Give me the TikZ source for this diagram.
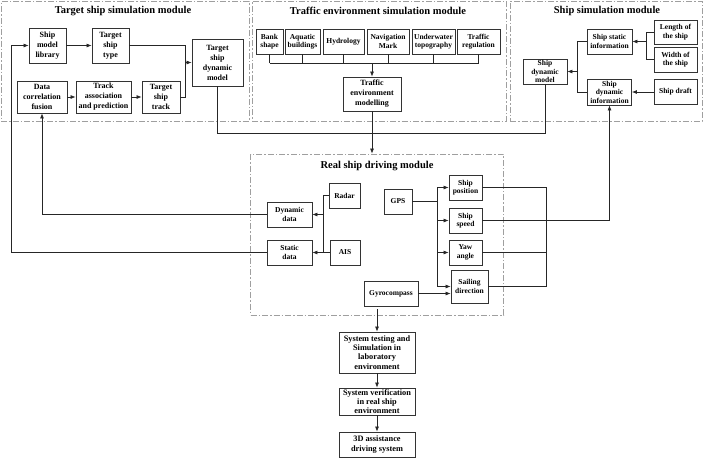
\documentclass[tikz,border=0pt]{standalone}
\usepackage{fontspec}
\setmainfont{Liberation Serif}
\usetikzlibrary{arrows.meta}
\begin{document}
\begin{tikzpicture}[x=1pt,y=-1pt,
 box/.style={draw=black!80, line width=0.8pt, fill=white, align=center, inner sep=1pt, font=\bfseries\fontsize{8}{10}\selectfont},
 sbox/.style={box, font=\bfseries\fontsize{7.5}{8.5}\selectfont},
 bbox/.style={box, font=\bfseries\fontsize{8.3}{9.2}\selectfont},
 modframe/.style={draw=gray!75, line width=0.8pt, dash pattern=on 6pt off 2pt on 1.5pt off 2pt, inner sep=0pt},
 modtitle/.style={font=\bfseries\fontsize{10.5}{12}\selectfont, inner sep=0pt},
 conn/.style={draw=black!85, line width=0.7pt},
 arr/.style={conn, -{Latex[length=5pt,width=4pt]}},
]
\useasboundingbox (0,0) rectangle (704,459);
% module frames
\node[modframe, minimum width=248pt, minimum height=120pt] (tmod) at (125,61) {};
\node[modframe, minimum width=254pt, minimum height=120pt] (emod) at (379,61) {};
\node[modframe, minimum width=192pt, minimum height=120pt] (smod) at (606,61) {};
\node[modframe, minimum width=253pt, minimum height=161pt] (realmod) at (377,234.5) {};
\node[modtitle] (ttitle) at (123,11) {Target ship simulation module};
\node[modtitle] (etitle) at (378,11) {Traffic environment simulation module};
\node[modtitle] (stitle) at (607,11) {Ship simulation module};
\node[modtitle] (rtitle) at (377,166) {Real ship driving module};

% target ship simulation module
\node[box, minimum width=37pt, minimum height=35pt] (lib) at (47.5,45.5) {Ship\\model\\library};
\node[box, minimum width=37pt, minimum height=35pt] (ttype) at (110.5,45.5) {Target\\ship\\type};
\node[box, minimum width=51pt, minimum height=47pt] (tdyn) at (217.5,62.5) {Target\\ship\\dynamic\\model};
\node[box, minimum width=50pt, minimum height=32pt] (dcf) at (42,97) {Data\\correlation\\fusion};
\node[box, minimum width=55pt, minimum height=32pt] (tap) at (103.5,97) {Track\\association\\and prediction};
\node[box, minimum width=38pt, minimum height=32pt] (track) at (161,97) {Target\\ship\\track};

% traffic environment module
\node[sbox, minimum width=27pt, minimum height=25pt] (bank) at (269.5,41.5) {Bank\\shape};
\node[sbox, minimum width=35pt, minimum height=25pt] (aquatic) at (302.5,41.5) {Aquatic\\buildings};
\node[sbox, minimum width=41pt, minimum height=25pt] (hydro) at (343.5,41.5) {Hydrology};
\node[sbox, minimum width=42pt, minimum height=25pt] (nav) at (388,41.5) {Navigation\\Mark};
\node[sbox, minimum width=43pt, minimum height=25pt] (under) at (433.5,41.5) {Underwater\\topography};
\node[sbox, minimum width=43pt, minimum height=25pt] (treg) at (478.5,41.5) {Traffic\\regulation};
\node[box, minimum width=58pt, minimum height=34pt] (tem) at (372,94) {Traffic\\environment\\modelling};

% ship simulation module
\node[sbox, minimum width=44pt, minimum height=25pt] (sdm) at (545,71.5) {Ship\\dynamic\\model};
\node[sbox, minimum width=45pt, minimum height=25pt] (ssi) at (609.5,41.5) {Ship static\\information};
\node[sbox, minimum width=44pt, minimum height=26pt] (sdi) at (609.5,92) {Ship\\dynamic\\information};
\node[sbox, minimum width=43pt, minimum height=24pt] (len) at (675.5,32) {Length of\\the ship};
\node[sbox, minimum width=43pt, minimum height=25pt] (wid) at (675.5,59.5) {Width of\\the ship};
\node[sbox, minimum width=43pt, minimum height=25pt] (draft) at (675.5,92) {Ship draft};

% real ship driving module
\node[sbox, minimum width=45pt, minimum height=25pt] (dyn) at (289.5,214.5) {Dynamic\\data};
\node[sbox, minimum width=45pt, minimum height=25pt] (stat) at (289.5,252.5) {Static\\data};
\node[sbox, minimum width=31pt, minimum height=25pt] (radar) at (344.5,195.5) {Radar};
\node[sbox, minimum width=30pt, minimum height=25pt] (ais) at (345,252.5) {AIS};
\node[sbox, minimum width=28pt, minimum height=25pt] (gps) at (398,201.5) {GPS};
\node[sbox, minimum width=54pt, minimum height=25pt] (gyro) at (391,293.5) {Gyrocompass};
\node[sbox, minimum width=33pt, minimum height=25pt] (spos) at (465.5,187.5) {Ship\\position};
\node[sbox, minimum width=33pt, minimum height=25pt] (speed) at (465.5,220.5) {Ship\\speed};
\node[sbox, minimum width=33pt, minimum height=25pt] (yaw) at (465.5,252.5) {Yaw\\angle};
\node[sbox, minimum width=37pt, minimum height=33pt] (sail) at (469.5,286.5) {Sailing\\direction};

% bottom chain
\node[bbox, minimum width=76pt, minimum height=41pt] (test) at (377,352.5) {System testing and\\Simulation in\\laboratory\\environment};
\node[bbox, minimum width=76pt, minimum height=27pt] (verif) at (377,401.5) {System verification\\in real ship\\environment};
\node[bbox, minimum width=76pt, minimum height=25pt] (final) at (377,444.5) {3D assistance\\driving system};

% helper coordinates
\coordinate (tj) at (185,62.5);
\coordinate (busL) at (269.5,63);
\coordinate (lwj) at (646,0);
\coordinate (sj) at (577,0);
\coordinate (hb) at (0,133);
\coordinate (rj) at (323,0);
\coordinate (gj) at (437,0);
\coordinate (oj) at (546,0);
\coordinate (lx0) at (11,0);
\coordinate (bstart) at (377,309);

% target module connectors
\draw[arr] (lib) -- (ttype);
\draw[conn] (ttype.east) -| (tj);
\draw[conn] (track.east) -| (tj);
\draw[arr] (tj) -- (tdyn.west);
\draw[arr] (dcf) -- (tap);
\draw[arr] (tap) -- (track);

% traffic bus
\foreach \n in {bank,aquatic,hydro,nav,under,treg}
  \draw[conn] (\n.south) -- (\n.south |- busL);
\draw[conn] (bank.south |- busL) -- (treg.south |- busL);
\draw[arr] (tem.north |- busL) -- (tem.north);
\draw[arr] (tem.south) -- (tem.south |- realmod.north);

% ship module connectors
\draw[conn] (len.west) -- (len.west -| lwj) -- (wid.west -| lwj) -- (wid.west);
\draw[arr] (lwj |- ssi.east) -- (ssi.east);
\draw[arr] (draft) -- (sdi);
\draw[conn] (ssi.west) -- (ssi.west -| sj) -- (sdi.west -| sj) -- (sdi.west);
\draw[arr] (sj |- sdm.east) -- (sdm.east);
\draw[conn] (tdyn.south) -- (tdyn.south |- hb) -- (sdm.south |- hb) -- (sdm.south);

% real module connectors
\draw[conn] (radar.west) -- (radar.west -| rj) -- (ais.west -| rj) -- (ais.west);
\draw[arr] (rj |- dyn.east) -- (dyn.east);
\draw[arr] (rj |- stat.east) -- (stat.east);
\draw[conn] (gps.east) -- (gps.east -| gj);
\draw[conn] (gj |- spos.west) -- (gj |- sail.west);
\draw[arr] (gj |- spos.west) -- (spos.west);
\draw[arr] (gj |- speed.west) -- (speed.west);
\draw[arr] (gj |- yaw.west) -- (yaw.west);
\draw[arr] (gj |- sail.west) -- (sail.west);
\draw[arr] (gyro.east) -- (gyro.east -| sail.west);
\draw[conn] (spos.east) -- (spos.east -| oj) -- (sail.east -| oj) -- (sail.east);
\draw[conn] (speed.east) -- (speed.east -| oj);
\draw[conn] (yaw.east) -- (yaw.east -| oj);
\draw[arr] (oj |- speed.east) -| (sdi.south);

% long feedback lines
\draw[arr] (dyn.west) -| (dcf.south);
\draw[arr] (stat.west) -- (stat.west -| lx0) |- (lib.west);

% bottom chain
\draw[arr] (bstart) -- (bstart |- test.north);
\draw[arr] (test) -- (verif);
\draw[arr] (verif) -- (final);
\end{tikzpicture}
\end{document}
